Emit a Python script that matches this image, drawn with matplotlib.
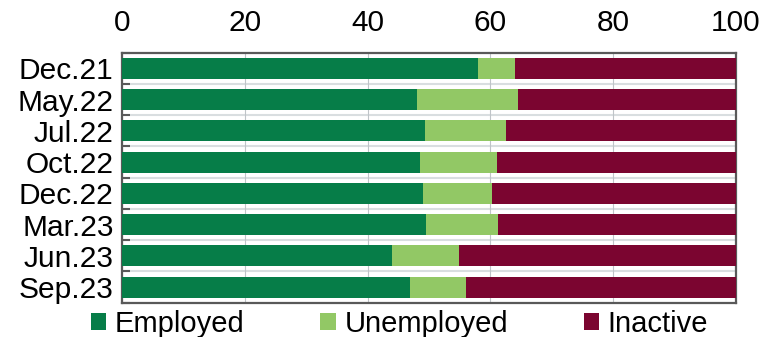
import matplotlib
matplotlib.use("Agg")
import matplotlib.pyplot as plt
import numpy as np
from matplotlib.patches import Patch

plt.rcParams['font.family'] = ['Liberation Sans', 'DejaVu Sans']

categories = ["Dec.21", "May.22", "Jul.22", "Oct.22", "Dec.22", "Mar.23", "Jun.23", "Sep.23"]
employed = [57.9, 48.1, 49.3, 48.5, 49.1, 49.5, 44.0, 46.9]
unemployed = [6.1, 16.4, 13.3, 12.6, 11.2, 11.7, 10.9, 9.1]
inactive = [100 - e - u for e, u in zip(employed, unemployed)]
series_names = ["Employed", "Unemployed", "Inactive"]
colors = ["#067D48", "#92C865", "#7B0530"]
xticks = [0, 20, 40, 60, 80, 100]

fig = plt.figure(figsize=(7.63, 3.37), dpi=100)
ax = fig.add_axes([122/763, 1 - 302.7/337, (736 - 122)/763, 250/337])

y = np.arange(len(categories))
left = np.zeros(len(categories))
for vals, c in zip([employed, unemployed, inactive], colors):
    ax.barh(y, vals, left=left, height=0.67, color=c, zorder=3)
    left += np.array(vals)

ax.set_xlim(0, 100)
ax.set_ylim(len(categories) - 0.5, -0.5)
ax.set_xticks(xticks)
ax.set_xticklabels([str(t) for t in xticks])
ax.xaxis.tick_top()
ax.tick_params(axis='x', length=0, pad=11.5, labelsize=21.5)
ax.set_yticks(y)
ax.set_yticklabels(categories)
ax.tick_params(axis='y', which='major', length=0, pad=6, labelsize=21.5)
ax.set_yticks(np.arange(-0.5, len(categories), 1.0), minor=True)
ax.tick_params(axis='y', which='minor', direction='in', length=6, width=1.5, color='#595959')

ax.grid(axis='x', color='#BFC4C8', linewidth=0.8, zorder=1)
for b in np.arange(0.5, len(categories) - 0.5, 1.0):
    ax.axhline(b, color='#D9DEE0', linewidth=1.5, zorder=1)

for s in ax.spines.values():
    s.set_color('#595959')
    s.set_linewidth(1.6)

handles = [Patch(facecolor=c, edgecolor='none') for c in colors]
fig.legend(handles, series_names, loc='center', bbox_to_anchor=(0.5236, 0.04), ncol=3,
           frameon=False, fontsize=21, handlelength=0.52, handleheight=0.52,
           handletextpad=0.3, columnspacing=2.6, borderpad=0, borderaxespad=0)

fig.savefig("out.png", dpi=100)
